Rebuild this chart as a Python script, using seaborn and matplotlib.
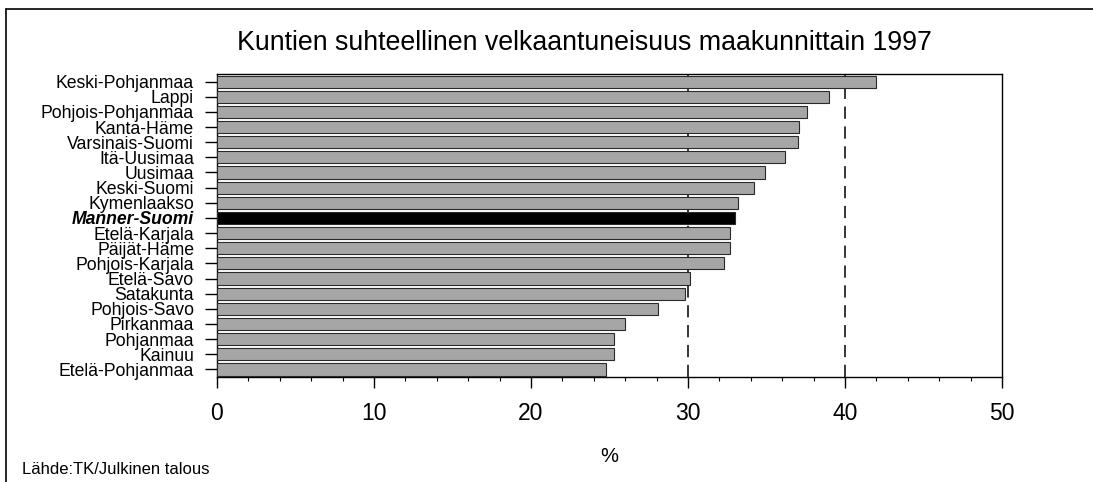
import seaborn as sns
import matplotlib.pyplot as plt
from matplotlib.lines import Line2D
from matplotlib.ticker import MultipleLocator

# data (velkaantuneisuus, %)
regions = ['Keski-Pohjanmaa', 'Lappi', 'Pohjois-Pohjanmaa', 'Kanta-Häme',
           'Varsinais-Suomi', 'Itä-Uusimaa', 'Uusimaa', 'Keski-Suomi',
           'Kymenlaakso', 'Manner-Suomi', 'Etelä-Karjala', 'Päijät-Häme',
           'Pohjois-Karjala', 'Etelä-Savo', 'Satakunta', 'Pohjois-Savo',
           'Pirkanmaa', 'Pohjanmaa', 'Kainuu', 'Etelä-Pohjanmaa']
values = [42.0, 39.0, 37.6, 37.1, 37.0, 36.2, 34.9, 34.2, 33.2, 33.0,
          32.7, 32.7, 32.3, 30.1, 29.8, 28.1, 26.0, 25.3, 25.3, 24.8]
xticks = [0, 10, 20, 30, 40, 50]
highlight = 'Manner-Suomi'

sns.set_style('white')
plt.rcParams['font.family'] = ['Liberation Sans', 'DejaVu Sans']
plt.rcParams['text.color'] = 'black'
plt.rcParams['axes.labelcolor'] = 'black'

fig = plt.figure(figsize=(10.93, 4.82), dpi=100)
ax = fig.add_axes([0.1985, 0.2178, 0.7182, 0.6287])

colors = {r: ('black' if r == highlight else '#a6a6a6') for r in regions}
sns.barplot(x=values, y=regions, hue=regions, palette=colors, legend=False,
            orient='h', width=0.8, ax=ax, zorder=3)
for p in ax.patches:
    p.set_edgecolor('#2a2a2a')
    p.set_linewidth(0.8)

ax.set_xlim(0, 50)
ax.set_ylim(len(regions) - 0.5, -0.5)
ax.set_xticks(xticks)
ax.xaxis.set_minor_locator(MultipleLocator(2))
ax.xaxis.grid(True, which='major', color='black', linestyle=(0, (8, 5)),
              linewidth=1.1, zorder=0)
ax.yaxis.grid(False)
ax.set_axisbelow(True)
# gridlines fully covered by every bar are not seen in the original
for t, gl in zip(xticks, ax.get_xgridlines()):
    if t <= min(values) or t >= 50:
        gl.set_visible(False)

ax.tick_params(axis='x', which='major', direction='out', length=8, width=1,
               labelsize=16.5, pad=10, colors='black', bottom=True)
ax.tick_params(axis='x', which='minor', direction='out', length=3, width=0.8,
               colors='black', bottom=True)
ax.tick_params(axis='y', which='major', direction='out', length=8.5, width=1,
               labelsize=12.7, pad=8, colors='black', left=True)
for lab in ax.get_yticklabels():
    if lab.get_text() == highlight:
        lab.set_fontweight('bold')
        lab.set_fontstyle('italic')

for s in ax.spines.values():
    s.set_visible(True)
    s.set_color('black')
    s.set_linewidth(1)

ax.set_xlabel('%', fontsize=14.5, labelpad=16)
ax.set_ylabel('')

fig.text(0.535, 0.91, 'Kuntien suhteellinen velkaantuneisuus maakunnittain 1997',
         ha='center', va='center', fontsize=19.3)
fig.text(0.02, 0.025, 'Lähde:TK/Julkinen talous', ha='left', va='center',
         fontsize=12)

# outer frame (top and left edges)
fig.add_artist(Line2D([0.0055, 1.0], [0.981, 0.981], transform=fig.transFigure,
                      color='black', linewidth=1.2))
fig.add_artist(Line2D([0.0055, 0.0055], [0.0, 0.981], transform=fig.transFigure,
                      color='black', linewidth=1.2))

fig.savefig('out.png', dpi=100)
